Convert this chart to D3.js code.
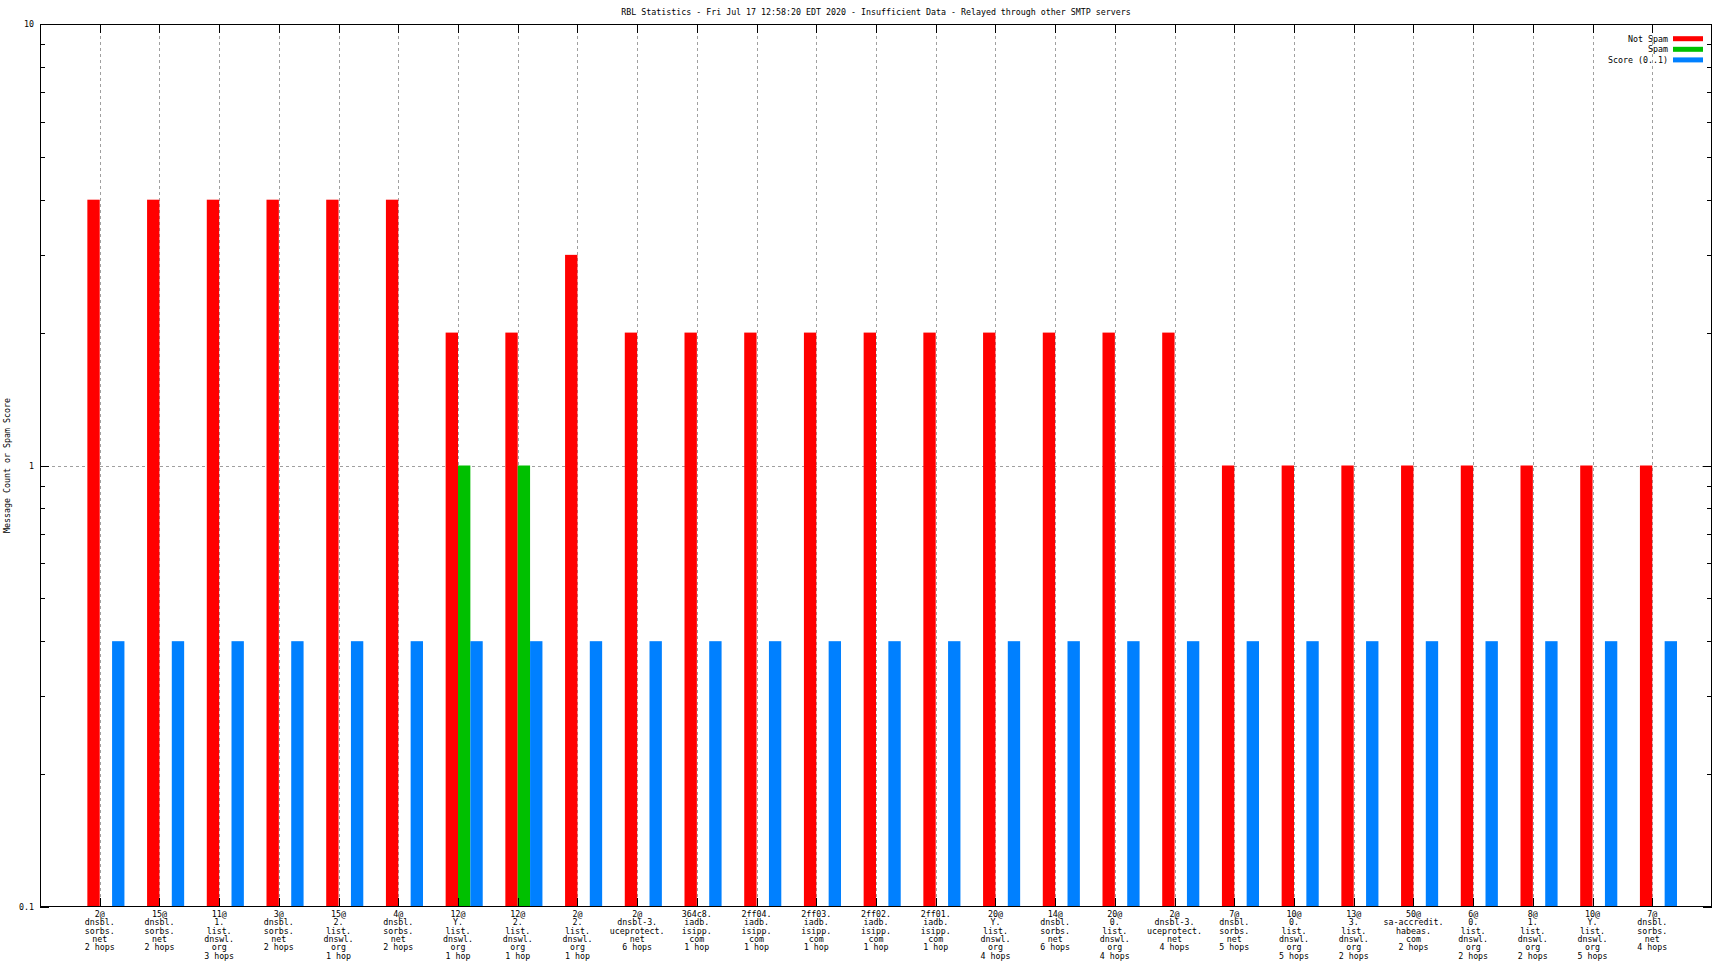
<!DOCTYPE html>
<html>
<head>
<meta charset="utf-8">
<script src="https://cdn.jsdelivr.net/npm/d3@7"></script>
<style>
  html, body { margin: 0; padding: 0; background: #fff; }
  svg { display: block; }
  text { font-family: "DejaVu Sans Mono", "Liberation Mono", monospace; font-size: 8.3px; fill: #000; }
</style>
</head>
<body>
<svg id="chart" width="1728" height="972"></svg>
<script>
const title = "RBL Statistics - Fri Jul 17 12:58:20 EDT 2020 - Insufficient Data - Relayed through other SMTP servers";
const yLabel = "Message Count or Spam Score";
const categories = [
  "2@\ndnsbl.\nsorbs.\nnet\n2 hops",
  "15@\ndnsbl.\nsorbs.\nnet\n2 hops",
  "11@\n1.\nlist.\ndnswl.\norg\n3 hops",
  "3@\ndnsbl.\nsorbs.\nnet\n2 hops",
  "15@\n2.\nlist.\ndnswl.\norg\n1 hop",
  "4@\ndnsbl.\nsorbs.\nnet\n2 hops",
  "12@\nY.\nlist.\ndnswl.\norg\n1 hop",
  "12@\n2.\nlist.\ndnswl.\norg\n1 hop",
  "2@\n2.\nlist.\ndnswl.\norg\n1 hop",
  "2@\ndnsbl-3.\nuceprotect.\nnet\n6 hops",
  "364c8.\niadb.\nisipp.\ncom\n1 hop",
  "2ff04.\niadb.\nisipp.\ncom\n1 hop",
  "2ff03.\niadb.\nisipp.\ncom\n1 hop",
  "2ff02.\niadb.\nisipp.\ncom\n1 hop",
  "2ff01.\niadb.\nisipp.\ncom\n1 hop",
  "20@\nY.\nlist.\ndnswl.\norg\n4 hops",
  "14@\ndnsbl.\nsorbs.\nnet\n6 hops",
  "20@\n0.\nlist.\ndnswl.\norg\n4 hops",
  "2@\ndnsbl-3.\nuceprotect.\nnet\n4 hops",
  "7@\ndnsbl.\nsorbs.\nnet\n5 hops",
  "10@\n0.\nlist.\ndnswl.\norg\n5 hops",
  "13@\n3.\nlist.\ndnswl.\norg\n2 hops",
  "50@\nsa-accredit.\nhabeas.\ncom\n2 hops",
  "6@\n0.\nlist.\ndnswl.\norg\n2 hops",
  "8@\n1.\nlist.\ndnswl.\norg\n2 hops",
  "10@\nY.\nlist.\ndnswl.\norg\n5 hops",
  "7@\ndnsbl.\nsorbs.\nnet\n4 hops"
];
const notSpam = [4,4,4,4,4,4,2,2,3,2,2,2,2,2,2,2,2,2,2,1,1,1,1,1,1,1,1];
const spam    = [0,0,0,0,0,0,1,1,0,0,0,0,0,0,0,0,0,0,0,0,0,0,0,0,0,0,0];
const score   = [0.4,0.4,0.4,0.4,0.4,0.4,0.4,0.4,0.4,0.4,0.4,0.4,0.4,0.4,0.4,0.4,0.4,0.4,0.4,0.4,0.4,0.4,0.4,0.4,0.4,0.4,0.4];
const seriesNames = ["Not Spam", "Spam", "Score (0..1)"];
const seriesColors = ["#ff0000", "#00c000", "#0080ff"];
const yMajor = [0.1, 1, 10];
const yMinor = [0.2,0.3,0.4,0.5,0.6,0.7,0.8,0.9,2,3,4,5,6,7,8,9];

const L = 40, R = 1712, T = 24, B = 907;
const svg = d3.select("#chart");
const x = d3.scaleLinear().domain([-1, categories.length]).range([L, R]);
const y = d3.scaleLog().domain([0.1, 10]).range([B, T]);
const bw = 0.207;
const idx = d3.range(categories.length);

// grid
const grid = svg.append("g").attr("stroke", "#a0a0a0").attr("stroke-width", 1).attr("stroke-dasharray", "3,3");
grid.selectAll("line.v").data(idx).join("line")
  .attr("x1", d => Math.round(x(d)) + 0.5).attr("x2", d => Math.round(x(d)) + 0.5)
  .attr("y1", T).attr("y2", B);
grid.append("line").attr("x1", L).attr("x2", R)
  .attr("y1", Math.round(y(1)) + 0.5).attr("y2", Math.round(y(1)) + 0.5);

// bars
const series = [notSpam, spam, score];
const offsets = [-bw, 0, bw];
series.forEach((vals, s) => {
  svg.append("g").attr("fill", seriesColors[s]).selectAll("rect")
    .data(vals.map((v, i) => ({v, i})).filter(d => d.v > 0.1))
    .join("rect")
    .attr("x", d => x(d.i + offsets[s]))
    .attr("width", x(bw) - x(0))
    .attr("y", d => y(d.v))
    .attr("height", d => y(0.1) - y(d.v));
});

// axes (inward ticks)
const fmt = d => d === 0.1 ? "0.1" : String(d);
const yl = svg.append("g").attr("transform", `translate(${L},0)`)
  .call(d3.axisLeft(y).tickValues(yMajor).tickSize(-9).tickPadding(6).tickFormat(fmt));
const ylm = svg.append("g").attr("transform", `translate(${L},0)`)
  .call(d3.axisLeft(y).tickValues(yMinor).tickSize(-5).tickFormat(""));
const yr = svg.append("g").attr("transform", `translate(${R},0)`)
  .call(d3.axisRight(y).tickValues(yMajor).tickSize(-9).tickFormat(""));
const yrm = svg.append("g").attr("transform", `translate(${R},0)`)
  .call(d3.axisRight(y).tickValues(yMinor).tickSize(-5).tickFormat(""));
const xt = svg.append("g").attr("transform", `translate(0,${T})`)
  .call(d3.axisTop(x).tickValues(idx).tickSize(-9).tickFormat(""));
const xb = svg.append("g").attr("transform", `translate(0,${B})`)
  .call(d3.axisBottom(x).tickValues(idx).tickSize(-9).tickFormat(""));
[yl, ylm, yr, yrm, xt, xb].forEach(g => {
  g.select(".domain").remove();
  g.selectAll("line").attr("stroke", "#000").attr("shape-rendering", "crispEdges");
  g.selectAll("text").attr("font-family", "DejaVu Sans Mono").attr("font-size", "8.3px").attr("fill", "#000");
});

// border
svg.append("rect").attr("x", L + 0.5).attr("y", T + 0.5).attr("width", R - L - 1).attr("height", B - T - 1)
  .attr("fill", "none").attr("stroke", "#000").attr("stroke-width", 1).attr("shape-rendering", "crispEdges");

// x labels
const xl = svg.append("g").attr("text-anchor", "middle");
xl.selectAll("text").data(idx).join("text")
  .attr("x", d => x(d)).attr("y", 917)
  .each(function(d) {
    const t = d3.select(this);
    categories[d].split("\n").forEach((line, k) => {
      t.append("tspan").attr("x", x(d)).attr("y", 917 + k * 8.3).text(line);
    });
  });

// title
svg.append("text").attr("x", (L + R) / 2).attr("y", 15).attr("text-anchor", "middle").text(title);
// y label
svg.append("text").attr("transform", `translate(10,${(T + B) / 2}) rotate(-90)`)
  .attr("text-anchor", "middle").text(yLabel);

// legend
const lg = svg.append("g");
seriesNames.forEach((name, s) => {
  const cy = 38.7 + s * 10.6;
  lg.append("text").attr("x", 1668).attr("y", cy + 3).attr("text-anchor", "end").text(name);
  lg.append("rect").attr("x", 1673).attr("y", cy - 2.5).attr("width", 30).attr("height", 5).attr("fill", seriesColors[s]);
});
</script>
</body>
</html>
